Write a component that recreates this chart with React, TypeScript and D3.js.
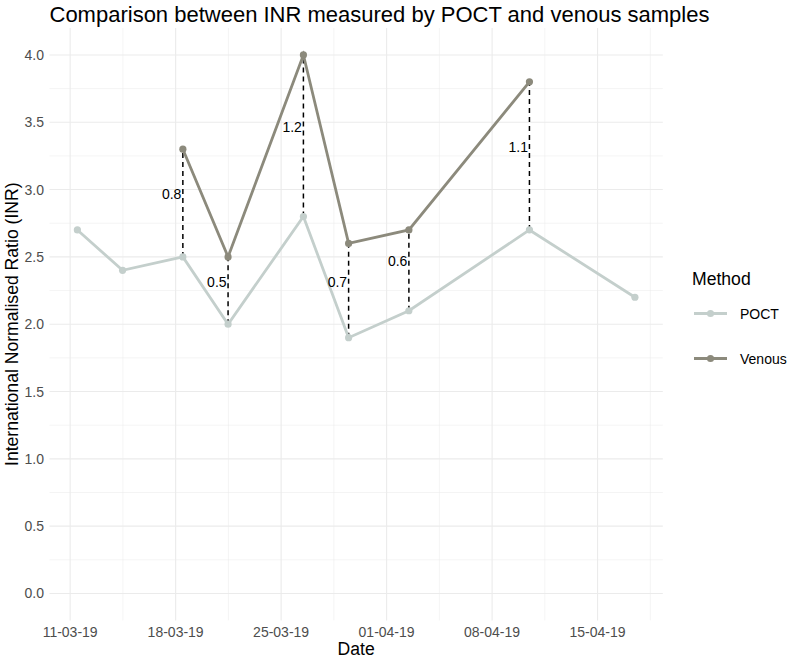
import { scaleLinear, scaleUtc, line, utcDay, utcFormat, range } from "d3";

const dates = [
  "2019-03-11",
  "2019-03-14",
  "2019-03-18",
  "2019-03-21",
  "2019-03-26",
  "2019-03-29",
  "2019-04-02",
  "2019-04-10",
  "2019-04-17",
];
// measurement time of day (samples were stamped late morning)
const sampleTime = "T11:30:00Z";

const poct = [2.7, 2.4, 2.5, 2.0, 2.8, 1.9, 2.1, 2.7, 2.2];
// null where no venous sample was taken that day
const venous = [null, null, 3.3, 2.5, 4.0, 2.6, 2.7, 3.8, null];

const yTicks = [0, 0.5, 1, 1.5, 2, 2.5, 3, 3.5, 4];
const methods = ["POCT", "Venous"];
const colors: Record<string, string> = { POCT: "#C4CFCC", Venous: "#8C8A7C" };

const W = 789;
const H = 659;
const panel = { left: 49.5, right: 662.8, top: 28, bottom: 620.4 };
const font = "'Liberation Sans', Arial, sans-serif";

type Pt = { date: Date; value: number };

const App = () => {
  const parsed = dates.map((d) => new Date(d + sampleTime));
  const poctPts: Pt[] = parsed.map((date, i) => ({ date, value: poct[i] }));
  const venPts: Pt[] = parsed
    .map((date, i) => ({ date, value: venous[i] as number }))
    .filter((d) => d.value != null);

  const t0 = +parsed[0];
  const t1 = +parsed[parsed.length - 1];
  const pad = (t1 - t0) * 0.05;
  const x = scaleUtc()
    .domain([new Date(t0 - pad), new Date(t1 + pad)])
    .range([panel.left, panel.right]);

  const y = scaleLinear().domain([-0.2, 4.2]).range([panel.bottom, panel.top]);

  // weekly breaks starting on the first Monday
  const majorX = utcDay.range(
    new Date("2019-03-11T00:00:00Z"),
    new Date("2019-04-16T00:00:00Z"),
    7
  );
  const minorX: number[] = [];
  const week = 7 * 864e5;
  const ext = [+majorX[0] - week, ...majorX.map((d) => +d), +majorX[majorX.length - 1] + week];
  for (let i = 0; i < ext.length - 1; i++) {
    const m = (ext[i] + ext[i + 1]) / 2;
    if (m >= +x.domain()[0] && m <= +x.domain()[1]) minorX.push(m);
  }
  const minorY = range(0.25, 4.2, 0.5);
  const fmt = utcFormat("%d-%m-%y");

  const path = line<Pt>()
    .x((d) => x(d.date))
    .y((d) => y(d.value));

  const pairs = parsed
    .map((date, i) => ({ date, p: poct[i], v: venous[i] }))
    .filter((d) => d.v != null) as { date: Date; p: number; v: number }[];

  return (
    <svg
      width={W}
      height={H}
      style={{ position: "absolute", left: 0, top: 0, background: "white" }}
      fontFamily={font}
    >
      {/* grid */}
      <g>
        {minorY.map((v) => (
          <line key={`my${v}`} x1={panel.left} x2={panel.right} y1={y(v)} y2={y(v)} stroke="#EBEBEB" strokeWidth={0.55} />
        ))}
        {minorX.map((v) => (
          <line key={`mx${v}`} x1={x(new Date(v))} x2={x(new Date(v))} y1={panel.top} y2={panel.bottom} stroke="#EBEBEB" strokeWidth={0.55} />
        ))}
        {yTicks.map((v) => (
          <line key={`y${v}`} x1={panel.left} x2={panel.right} y1={y(v)} y2={y(v)} stroke="#EBEBEB" strokeWidth={1.1} />
        ))}
        {majorX.map((d) => (
          <line key={`x${+d}`} x1={x(d)} x2={x(d)} y1={panel.top} y2={panel.bottom} stroke="#EBEBEB" strokeWidth={1.1} />
        ))}
      </g>

      {/* difference segments */}
      {pairs.map((d, i) => (
        <line
          key={`seg-${i}`}
          x1={x(d.date)}
          x2={x(d.date)}
          y1={y(d.p)}
          y2={y(d.v)}
          stroke="black"
          strokeWidth={1.5}
          strokeDasharray="5,4"
        />
      ))}

      {/* series */}
      <path d={path(poctPts) ?? ""} fill="none" stroke={colors.POCT} strokeWidth={2.8} />
      <path d={path(venPts) ?? ""} fill="none" stroke={colors.Venous} strokeWidth={2.8} />
      {poctPts.map((d, i) => (
        <circle key={`p${i}`} cx={x(d.date)} cy={y(d.value)} r={3.6} fill={colors.POCT} />
      ))}
      {venPts.map((d, i) => (
        <circle key={`v${i}`} cx={x(d.date)} cy={y(d.value)} r={3.6} fill={colors.Venous} />
      ))}

      {pairs.map((d, i) => (
        <text
          key={`lab-${i}`}
          x={x(d.date) - 1.5}
          y={y((d.p + d.v) / 2) - 9}
          textAnchor="end"
          dominantBaseline="central"
          fontSize={14}
          fill="black"
        >
          {(d.v - d.p).toFixed(1)}
        </text>
      ))}

      {/* axes labels */}
      {yTicks.map((v) => (
        <text key={`yl${v}`} x={panel.left - 5.5} y={y(v)} textAnchor="end" dominantBaseline="central" fontSize={14} fill="#4D4D4D">
          {v.toFixed(1)}
        </text>
      ))}
      {majorX.map((d) => (
        <text key={`xl${+d}`} x={x(d)} y={632} textAnchor="middle" dominantBaseline="central" fontSize={14} fill="#4D4D4D">
          {fmt(d)}
        </text>
      ))}
      <text x={(panel.left + panel.right) / 2} y={649} textAnchor="middle" dominantBaseline="central" fontSize={17.6}>
        Date
      </text>
      <text
        transform={`translate(12, ${(panel.top + panel.bottom) / 2}) rotate(-90)`}
        textAnchor="middle"
        dominantBaseline="central"
        fontSize={17.6}
      >
        International Normalised Ratio (INR)
      </text>
      <text x={panel.left} y={14} dominantBaseline="central" fontSize={22}>
        Comparison between INR measured by POCT and venous samples
      </text>

      {/* legend */}
      <g>
        <text x={692} y={279} dominantBaseline="central" fontSize={17.6}>
          Method
        </text>
        {methods.map((m, i) => {
          const cy = 313.5 + i * 45;
          return (
            <g key={m}>
              <line x1={694} x2={727} y1={cy} y2={cy} stroke={colors[m]} strokeWidth={2.8} />
              <circle cx={710.5} cy={cy} r={3.6} fill={colors[m]} />
              <text x={740} y={cy} dominantBaseline="central" fontSize={14}>
                {m}
              </text>
            </g>
          );
        })}
      </g>
    </svg>
  );
};

export default App;
